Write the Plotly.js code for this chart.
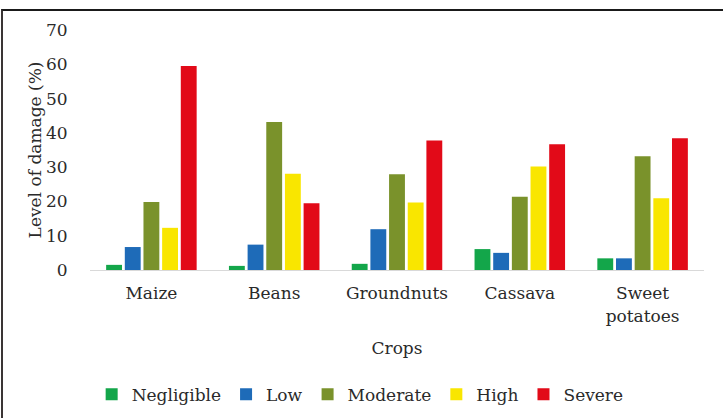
<!DOCTYPE html>
<html>
<head>
<meta charset="utf-8">
<script src="https://cdn.plot.ly/plotly-3.0.1.min.js"></script>
<style>
  html, body { margin: 0; padding: 0; background: #fff; }
  #wrap { position: relative; width: 723px; height: 418px; overflow: hidden; }
  #chart { position: absolute; left: 0; top: 0; width: 723px; height: 418px; }
  #frame { position: absolute; left: 1px; top: 9px; width: 740px; height: 440px;
           border-top: 2px solid #1a1a1a; border-left: 2px solid #3a3535; pointer-events: none; }
</style>
</head>
<body>
<div id="wrap">
  <div id="chart"></div>
  <div id="frame"></div>
</div>
<script>
const crops = ["Maize", "Beans", "Groundnuts", "Cassava", "Sweet<br>potatoes"];
const negligible = [1.5, 1.2, 1.8, 6.1, 3.4];
const low        = [6.7, 7.4, 11.9, 5.0, 3.4];
const moderate   = [19.8, 43.2, 27.9, 21.4, 33.2];
const high       = [12.3, 28.1, 19.7, 30.2, 20.9];
const severe     = [59.5, 19.5, 37.8, 36.7, 38.4];
const yTicks = [0, 10, 20, 30, 40, 50, 60, 70];

const seriesNames = ["Negligible", "Low", "Moderate", "High", "Severe"];
const seriesVals = [negligible, low, moderate, high, severe];
const colors = ["#13a64a", "#1e6bb8", "#7a922b", "#f9e600", "#e20a18"];

const traces = seriesNames.map((n, i) => ({
  type: "bar",
  name: n,
  x: crops,
  y: seriesVals[i],
  marker: { color: colors[i], line: { width: 0 } },
  hoverinfo: "skip"
}));

const font = "DejaVu Serif, Liberation Serif, serif";
const tc = "#2a2a2a";
const fs = 17;

const layout = {
  width: 723,
  height: 418,
  margin: { l: 90, r: 19, t: 30, b: 148, autoexpand: false },
  paper_bgcolor: "#ffffff",
  plot_bgcolor: "#ffffff",
  font: { family: font, size: fs, color: tc },
  barmode: "group",
  bargap: 0.24,
  bargroupgap: 0.15,
  showlegend: true,
  legend: {
    orientation: "h",
    x: 0.44, xanchor: "center",
    y: -0.52, yanchor: "middle",
    font: { family: font, size: fs, color: tc },
    itemwidth: 30,
    tracegroupgap: 0
  },
  xaxis: {
    type: "category",
    automargin: false,
    showgrid: false,
    showline: true,
    linecolor: "#d9d9d9",
    linewidth: 1,
    ticks: "outside",
    ticklen: 8,
    tickcolor: "rgba(0,0,0,0)",
    tickfont: { family: font, size: fs, color: tc },
    title: { text: "Crops", font: { family: font, size: fs, color: tc }, standoff: 17 },
    zeroline: false
  },
  yaxis: {
    range: [0, 70],
    automargin: false,
    tickvals: yTicks,
    ticktext: yTicks.map(String),
    showgrid: false,
    showline: false,
    zeroline: false,
    ticks: "outside",
    ticklen: 18,
    tickcolor: "rgba(0,0,0,0)",
    tickfont: { family: font, size: fs, color: tc },
    title: { text: "Level of damage (%)", font: { family: font, size: fs, color: tc }, standoff: 0 }
  }
};

Plotly.newPlot("chart", traces, layout, { displayModeBar: false, staticPlot: true });
</script>
</body>
</html>
